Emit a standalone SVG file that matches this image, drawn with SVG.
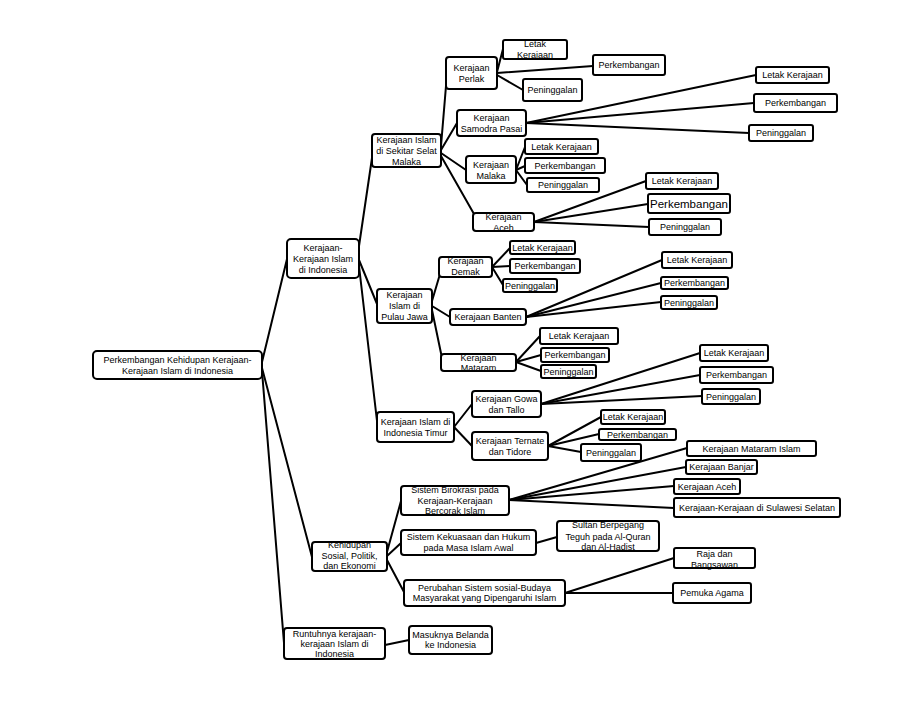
<svg xmlns="http://www.w3.org/2000/svg" width="911" height="705" viewBox="0 0 911 705">
<style>
.b{fill:#fff;stroke:#000;stroke-width:2}
.c line{stroke:#000;stroke-width:2;stroke-linecap:round}
text{font-family:"Liberation Sans",Arial,sans-serif;font-size:9px;text-anchor:middle;fill:#000}
.lg{font-size:11.5px}
</style>
<rect width="911" height="705" fill="#fff"/>
<g class="c" id="connectors">
<line x1="262" y1="362" x2="287" y2="259"/>
<line x1="262" y1="368" x2="312" y2="557"/>
<line x1="262" y1="371" x2="284" y2="643"/>
<line x1="359" y1="246" x2="372" y2="158"/>
<line x1="359" y1="260" x2="377" y2="304"/>
<line x1="359" y1="266" x2="377" y2="421"/>
<line x1="441" y1="146" x2="446" y2="86"/>
<line x1="441" y1="150" x2="457" y2="123"/>
<line x1="441" y1="153" x2="466" y2="170"/>
<line x1="441" y1="156" x2="474" y2="214"/>
<line x1="497" y1="72" x2="503" y2="49"/>
<line x1="497" y1="73" x2="593" y2="66"/>
<line x1="497" y1="75" x2="523" y2="90"/>
<line x1="526" y1="123" x2="756" y2="75"/>
<line x1="526" y1="123" x2="754" y2="103"/>
<line x1="526" y1="123" x2="749" y2="133"/>
<line x1="516" y1="170" x2="525" y2="147"/>
<line x1="516" y1="170" x2="525" y2="166"/>
<line x1="516" y1="170" x2="527" y2="185"/>
<line x1="534" y1="222" x2="646" y2="181"/>
<line x1="534" y1="222" x2="648" y2="204"/>
<line x1="534" y1="222" x2="649" y2="227"/>
<line x1="432" y1="301" x2="440" y2="274"/>
<line x1="432" y1="306" x2="450" y2="317"/>
<line x1="432" y1="310" x2="442" y2="358"/>
<line x1="492" y1="267" x2="510" y2="248"/>
<line x1="492" y1="267" x2="510" y2="266"/>
<line x1="492" y1="267" x2="503" y2="285"/>
<line x1="526" y1="317" x2="662" y2="260"/>
<line x1="526" y1="317" x2="661" y2="283"/>
<line x1="526" y1="317" x2="661" y2="302"/>
<line x1="516" y1="362" x2="540" y2="336"/>
<line x1="516" y1="362" x2="541" y2="355"/>
<line x1="516" y1="362" x2="541" y2="371"/>
<line x1="454" y1="427" x2="472" y2="404"/>
<line x1="454" y1="427" x2="472" y2="446"/>
<line x1="541" y1="404" x2="700" y2="353"/>
<line x1="541" y1="404" x2="700" y2="375"/>
<line x1="541" y1="404" x2="702" y2="396"/>
<line x1="548" y1="446" x2="601" y2="417"/>
<line x1="548" y1="446" x2="599" y2="434"/>
<line x1="548" y1="446" x2="581" y2="452"/>
<line x1="387" y1="552" x2="401" y2="501"/>
<line x1="387" y1="556" x2="401" y2="543"/>
<line x1="387" y1="560" x2="404" y2="592"/>
<line x1="509" y1="500" x2="687" y2="448"/>
<line x1="509" y1="500" x2="686" y2="467"/>
<line x1="509" y1="500" x2="674" y2="486"/>
<line x1="509" y1="500" x2="674" y2="508"/>
<line x1="536" y1="543" x2="557" y2="537"/>
<line x1="565" y1="593" x2="674" y2="558"/>
<line x1="565" y1="593" x2="673" y2="593"/>
<line x1="385" y1="645" x2="409" y2="640"/>
</g>

<g id="root"><rect class="b" x="93" y="351" width="169" height="28" rx="4"/>
<text><tspan x="177.5" y="363">Perkembangan Kehidupan  Kerajaan-</tspan><tspan x="177.5" y="374">Kerajaan Islam di Indonesia</tspan></text></g>

<g id="kerajaan-indonesia"><rect class="b" x="287" y="239" width="72" height="39" rx="4"/>
<text><tspan x="323" y="250.5">Kerajaan-</tspan><tspan x="323" y="261.5">Kerajaan Islam</tspan><tspan x="323" y="272.5">di Indonesia</tspan></text></g>

<g id="selat-malaka"><rect class="b" x="372" y="134" width="69" height="33" rx="3"/>
<text><tspan x="406.5" y="143">Kerajaan Islam</tspan><tspan x="406.5" y="154">di Sekitar  Selat</tspan><tspan x="406.5" y="165">Malaka</tspan></text></g>

<g id="pulau-jawa"><rect class="b" x="377" y="289" width="55" height="34" rx="3"/>
<text><tspan x="404.5" y="298">Kerajaan</tspan><tspan x="404.5" y="309">Islam di</tspan><tspan x="404.5" y="320">Pulau Jawa</tspan></text></g>

<g id="indonesia-timur"><rect class="b" x="377" y="412" width="77" height="30" rx="3"/>
<text><tspan x="415.5" y="425">Kerajaan Islam di</tspan><tspan x="415.5" y="436">Indonesia  Timur</tspan></text></g>

<g id="perlak"><rect class="b" x="446" y="57" width="51" height="32" rx="3"/>
<text><tspan x="471.5" y="71">Kerajaan</tspan><tspan x="471.5" y="82">Perlak</tspan></text></g>
<g id="perlak-letak"><rect class="b" x="503" y="40" width="64" height="19" rx="2"/>
<text><tspan x="535" y="47">Letak</tspan><tspan x="535" y="58">Kerajaan</tspan></text></g>
<g id="perlak-perk"><rect class="b" x="593" y="55" width="72" height="20" rx="2"/>
<text x="629" y="68">Perkembangan</text></g>
<g id="perlak-pen"><rect class="b" x="523" y="79" width="59" height="22" rx="2"/>
<text x="552.5" y="93">Peninggalan</text></g>

<g id="samodra"><rect class="b" x="457" y="110" width="69" height="26" rx="3"/>
<text><tspan x="491.5" y="121">Kerajaan</tspan><tspan x="491.5" y="132">Samodra Pasai</tspan></text></g>
<g id="samodra-letak"><rect class="b" x="756" y="67" width="73" height="16" rx="2"/>
<text x="792.5" y="78">Letak Kerajaan</text></g>
<g id="samodra-perk"><rect class="b" x="754" y="94" width="83" height="18" rx="2"/>
<text x="795.5" y="106">Perkembangan</text></g>
<g id="samodra-pen"><rect class="b" x="749" y="125" width="64" height="16" rx="2"/>
<text x="781" y="136">Peninggalan</text></g>

<g id="malaka"><rect class="b" x="466" y="156" width="50" height="27" rx="3"/>
<text><tspan x="491" y="168">Kerajaan</tspan><tspan x="491" y="179">Malaka</tspan></text></g>
<g id="malaka-letak"><rect class="b" x="525" y="139" width="73" height="15" rx="2"/>
<text x="561.5" y="149.5">Letak Kerajaan</text></g>
<g id="malaka-perk"><rect class="b" x="525" y="158" width="80" height="15" rx="2"/>
<text x="565" y="168.5">Perkembangan</text></g>
<g id="malaka-pen"><rect class="b" x="527" y="178" width="72" height="14" rx="2"/>
<text x="563" y="188">Peninggalan</text></g>

<g id="aceh"><rect class="b" x="473" y="213" width="61" height="18" rx="3"/>
<text><tspan x="503.5" y="219.5">Kerajaan</tspan><tspan x="503.5" y="230.5">Aceh</tspan></text></g>
<g id="aceh-letak"><rect class="b" x="646" y="173" width="72" height="16" rx="2"/>
<text x="682" y="184">Letak Kerajaan</text></g>
<g id="aceh-perk"><rect class="b" x="648" y="194" width="82" height="19" rx="2"/>
<text class="lg" x="689" y="207.5">Perkembangan</text></g>
<g id="aceh-pen"><rect class="b" x="649" y="219" width="72" height="16" rx="2"/>
<text x="685" y="230">Peninggalan</text></g>

<g id="demak"><rect class="b" x="439" y="257" width="53" height="20" rx="3"/>
<text><tspan x="465.5" y="264">Kerajaan</tspan><tspan x="465.5" y="275">Demak</tspan></text></g>
<g id="demak-letak"><rect class="b" x="510" y="241" width="65" height="13" rx="2"/>
<text x="542.5" y="250.5">Letak Kerajaan</text></g>
<g id="demak-perk"><rect class="b" x="510" y="259" width="70" height="14" rx="2"/>
<text x="545" y="269">Perkembangan</text></g>
<g id="demak-pen"><rect class="b" x="503" y="279" width="54" height="13" rx="2"/>
<text x="530" y="288.5">Peninggalan</text></g>

<g id="banten"><rect class="b" x="450" y="309" width="76" height="16" rx="3"/>
<text x="488" y="320">Kerajaan Banten</text></g>
<g id="banten-letak"><rect class="b" x="662" y="252" width="70" height="16" rx="2"/>
<text x="697" y="263">Letak Kerajaan</text></g>
<g id="banten-perk"><rect class="b" x="661" y="277" width="67" height="12" rx="2"/>
<text x="694.5" y="286">Perkembangan</text></g>
<g id="banten-pen"><rect class="b" x="661" y="296" width="56" height="13" rx="2"/>
<text x="689" y="305.5">Peninggalan</text></g>

<g id="mataram"><rect class="b" x="441" y="354" width="75" height="17" rx="3"/>
<text><tspan x="478.5" y="360.5">Kerajaan</tspan><tspan x="478.5" y="371">Mataram</tspan></text></g>
<g id="mataram-letak"><rect class="b" x="540" y="328" width="78" height="16" rx="2"/>
<text x="579" y="339">Letak Kerajaan</text></g>
<g id="mataram-perk"><rect class="b" x="541" y="348" width="68" height="14" rx="2"/>
<text x="575" y="358">Perkembangan</text></g>
<g id="mataram-pen"><rect class="b" x="541" y="365" width="55" height="13" rx="2"/>
<text x="568.5" y="374.5">Peninggalan</text></g>

<g id="gowa"><rect class="b" x="472" y="391" width="69" height="26" rx="3"/>
<text><tspan x="506.5" y="402">Kerajaan Gowa</tspan><tspan x="506.5" y="413">dan Tallo</tspan></text></g>
<g id="gowa-letak"><rect class="b" x="700" y="345" width="68" height="16" rx="2"/>
<text x="734" y="356">Letak Kerajaan</text></g>
<g id="gowa-perk"><rect class="b" x="700" y="367" width="73" height="16" rx="2"/>
<text x="736.5" y="378">Perkembangan</text></g>
<g id="gowa-pen"><rect class="b" x="702" y="389" width="58" height="15" rx="2"/>
<text x="731" y="399.5">Peninggalan</text></g>

<g id="ternate"><rect class="b" x="472" y="432" width="76" height="28" rx="3"/>
<text><tspan x="510" y="444">Kerajaan Ternate</tspan><tspan x="510" y="455">dan Tidore</tspan></text></g>
<g id="ternate-letak"><rect class="b" x="601" y="410" width="64" height="14" rx="2"/>
<text x="633" y="420">Letak Kerajaan</text></g>
<g id="ternate-perk"><rect class="b" x="599" y="429" width="77" height="11" rx="2"/>
<text x="637.5" y="437.5">Perkembangan</text></g>
<g id="ternate-pen"><rect class="b" x="581" y="444" width="60" height="17" rx="2"/>
<text x="611" y="455.5">Peninggalan</text></g>

<g id="kehidupan"><rect class="b" x="312" y="542" width="75" height="29" rx="3"/>
<text><tspan x="349.5" y="548">Kehidupan</tspan><tspan x="349.5" y="558.5">Sosial, Politik,</tspan><tspan x="349.5" y="569">dan Ekonomi</tspan></text></g>

<g id="birokrasi"><rect class="b" x="401" y="486" width="108" height="29" rx="3"/>
<text><tspan x="455" y="493">Sistem Birokrasi  pada</tspan><tspan x="455" y="503.7">Kerajaan-Kerajaan</tspan><tspan x="455" y="514">Bercorak Islam</tspan></text></g>
<g id="mataram-islam"><rect class="b" x="687" y="441" width="129" height="15" rx="2"/>
<text x="751.5" y="451.5">Kerajaan Mataram Islam</text></g>
<g id="banjar"><rect class="b" x="686" y="460" width="71" height="14" rx="2"/>
<text x="721.5" y="470">Kerajaan Banjar</text></g>
<g id="kerajaan-aceh"><rect class="b" x="674" y="479" width="66" height="15" rx="2"/>
<text x="707" y="489.5">Kerajaan Aceh</text></g>
<g id="sulawesi"><rect class="b" x="674" y="498" width="166" height="19" rx="2"/>
<text x="757" y="510.5">Kerajaan-Kerajaan  di Sulawesi  Selatan</text></g>

<g id="kekuasaan"><rect class="b" x="401" y="530" width="135" height="25" rx="3"/>
<text><tspan x="468.5" y="539.7">Sistem Kekuasaan  dan Hukum</tspan><tspan x="468.5" y="550.7">pada Masa Islam Awal</tspan></text></g>
<g id="sultan"><rect class="b" x="557" y="521" width="102" height="30" rx="3"/>
<text><tspan x="608" y="528">Sultan Berpegang</tspan><tspan x="608" y="539.5">Teguh pada  Al-Quran</tspan><tspan x="608" y="549.5">dan Al-Hadist</tspan></text></g>

<g id="perubahan"><rect class="b" x="404" y="580" width="161" height="26" rx="3"/>
<text><tspan x="484.5" y="590.7">Perubahan Sistem  sosial-Budaya</tspan><tspan x="484.5" y="601.3">Masyarakat yang Dipengaruhi  Islam</tspan></text></g>
<g id="raja"><rect class="b" x="674" y="548" width="81" height="20" rx="2"/>
<text><tspan x="714.5" y="557">Raja dan</tspan><tspan x="714.5" y="568">Bangsawan</tspan></text></g>
<g id="pemuka"><rect class="b" x="673" y="583" width="78" height="20" rx="2"/>
<text x="712" y="596">Pemuka Agama</text></g>

<g id="runtuhnya"><rect class="b" x="284" y="628" width="101" height="31" rx="3"/>
<text><tspan x="334.5" y="636.5">Runtuhnya  kerajaan-</tspan><tspan x="334.5" y="646.5">kerajaan Islam di</tspan><tspan x="334.5" y="656.5">Indonesia</tspan></text></g>
<g id="belanda"><rect class="b" x="409" y="626" width="83" height="28" rx="3"/>
<text><tspan x="450.5" y="638">Masuknya Belanda</tspan><tspan x="450.5" y="648">ke Indonesia</tspan></text></g>
</svg>
